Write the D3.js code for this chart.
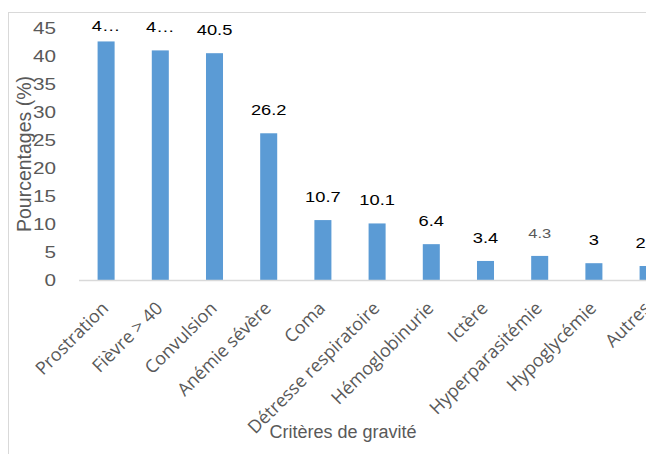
<!DOCTYPE html>
<html>
<head>
<meta charset="utf-8">
<script src="https://cdn.jsdelivr.net/npm/d3@7"></script>
<style>
  body { margin: 0; background: #fff; }
  svg { display: block; }
</style>
</head>
<body>
<div id="chart"></div>
<script>
// critères de gravité et pourcentages
const categories = ["Prostration", "Fièvre > 40", "Convulsion", "Anémie sévère", "Coma",
  "Détresse respiratoire", "Hémoglobinurie", "Ictère", "Hyperparasitémie", "Hypoglycémie", "Autres"];
const values = [42.6, 41.0, 40.5, 26.2, 10.7, 10.1, 6.4, 3.4, 4.3, 3.0, 2.5];
// étiquettes telles qu'affichées (les deux premières tronquées)
const valueLabels = ["4…", "4…", "40.5", "26.2", "10.7", "10.1", "6.4", "3.4", "4.3", "3", "2.5"];
const yTicks = [0, 5, 10, 15, 20, 25, 30, 35, 40, 45];

const width = 646, height = 454;

const svg = d3.select("#chart").append("svg")
  .attr("width", width)
  .attr("height", height);

// cadre du graphique
svg.append("rect")
  .attr("x", 8.5).attr("y", 12.5)
  .attr("width", 700).attr("height", 500)
  .attr("fill", "none")
  .attr("stroke", "#d9d9d9");

const x = d3.scaleBand()
  .domain(categories)
  .range([79, 79 + 54.2 * categories.length])
  .paddingInner(0.686)
  .paddingOuter(0.343);

const y = d3.scaleLinear()
  .domain([0, 45])
  .range([280, 28]);

// axe y (sans ligne, juste les libellés)
const yAxis = svg.append("g")
  .attr("transform", "translate(56,0)")
  .call(d3.axisLeft(y).tickValues(yTicks).tickSize(0).tickPadding(0));
yAxis.select(".domain").remove();
yAxis.selectAll("text")
  .attr("font-family", "Liberation Sans, Arial, sans-serif")
  .attr("font-size", 17)
  .attr("fill", "#595959")
  .attr("transform", "scale(1.22,1)")
  .attr("x", 0)
  .attr("text-anchor", "end");

// barres
svg.append("g")
  .selectAll("rect")
  .data(values)
  .join("rect")
  .attr("x", (d, i) => x(categories[i]))
  .attr("y", d => y(d))
  .attr("width", x.bandwidth())
  .attr("height", d => y(0) - y(d))
  .attr("fill", "#5b9bd5");

// ligne de base
svg.append("line")
  .attr("x1", 79).attr("x2", width)
  .attr("y1", 280.5).attr("y2", 280.5)
  .attr("stroke", "#d9d9d9")
  .attr("stroke-width", 1.5);

// étiquettes de données
svg.append("g")
  .selectAll("text")
  .data(values)
  .join("text")
  .attr("transform", (d, i) => {
    const cx = x(categories[i]) + x.bandwidth() / 2;
    const by = Math.max(y(d) - 18, 31);
    return `translate(${cx},${by}) scale(1.22,1)`;
  })
  .attr("text-anchor", "middle")
  .attr("font-family", "Liberation Sans, Arial, sans-serif")
  .attr("font-size", (d, i) => i === 8 ? 13.5 : 15)
  .attr("fill", (d, i) => i === 8 ? "#595959" : "#000")
  .text((d, i) => valueLabels[i]);

// libellés des catégories
const xAxis = svg.append("g")
  .attr("transform", "translate(0,280)")
  .call(d3.axisBottom(x).tickSize(0).tickPadding(0));
xAxis.select(".domain").remove();
xAxis.selectAll("text")
  .attr("font-family", "Open Sans, sans-serif")
  .attr("font-size", 18)
  .attr("fill", "#595959")
  .attr("text-anchor", "end")
  .attr("dy", "0.35em")
  .attr("y", 0)
  .attr("transform", "translate(-1,25) rotate(-45)");

// titres des axes
svg.append("text")
  .attr("transform", "translate(31,154) rotate(-90)")
  .attr("text-anchor", "middle")
  .attr("font-family", "Liberation Sans, Arial, sans-serif")
  .attr("font-size", 19.5)
  .attr("fill", "#595959")
  .text("Pourcentages (%)");

svg.append("text")
  .attr("x", 343).attr("y", 438)
  .attr("text-anchor", "middle")
  .attr("font-family", "Liberation Sans, Arial, sans-serif")
  .attr("font-size", 18)
  .attr("fill", "#595959")
  .text("Critères de gravité");
</script>
</body>
</html>
